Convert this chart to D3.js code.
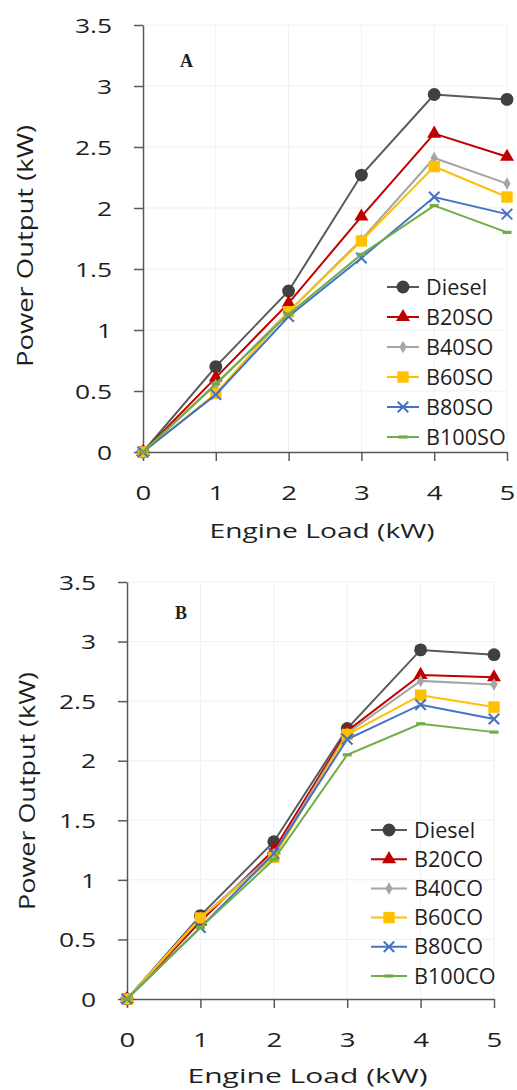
<!DOCTYPE html>
<html lang="en">
<head>
<meta charset="utf-8">
<title>Power output vs engine load</title>
<script src="https://d3js.org/d3.v7.min.js"></script>
<style>
  body { margin: 0; background: #fff; }
  svg { display: block; }
  text { font-family: "Open Sans", sans-serif; fill: #1f1f1f; }
</style>
</head>
<body>
<div id="chart"></div>
<script>
// engine load (x) and axis ticks
var engineLoad = [0, 1, 2, 3, 4, 5];
var yTicks = [0, 0.5, 1, 1.5, 2, 2.5, 3, 3.5];

// series names
var namesA = ["Diesel", "B20SO", "B40SO", "B60SO", "B80SO", "B100SO"];
var namesB = ["Diesel", "B20CO", "B40CO", "B60CO", "B80CO", "B100CO"];

// power output (kW)
var diesel = [0, 0.70, 1.32, 2.27, 2.93, 2.89];

var b20so  = [0, 0.61, 1.22, 1.93, 2.61, 2.42];
var b40so  = [0, 0.55, 1.15, 1.74, 2.41, 2.20];
var b60so  = [0, 0.48, 1.15, 1.73, 2.34, 2.09];
var b80so  = [0, 0.47, 1.11, 1.59, 2.09, 1.95];
var b100so = [0, 0.56, 1.13, 1.62, 2.02, 1.80];

var b20co  = [0, 0.65, 1.25, 2.25, 2.72, 2.70];
var b40co  = [0, 0.68, 1.22, 2.23, 2.67, 2.64];
var b60co  = [0, 0.68, 1.19, 2.22, 2.55, 2.45];
var b80co  = [0, 0.60, 1.22, 2.18, 2.47, 2.35];
var b100co = [0, 0.60, 1.17, 2.05, 2.31, 2.24];

var W = 517, H = 1090;

var svg = d3.select("#chart").append("svg")
  .attr("width", W)
  .attr("height", H);

// styles for the six series, in legend order
var styles = [
  { line: "#595959", fill: "#404040", shape: "circle" },
  { line: "#c00000", fill: "#c00000", shape: "triangle" },
  { line: "#a5a5a5", fill: "#a5a5a5", shape: "diamond" },
  { line: "#ffc000", fill: "#ffc000", shape: "square" },
  { line: "#4472c4", fill: "#4472c4", shape: "x" },
  { line: "#70ad47", fill: "#70ad47", shape: "dash" }
];

var xMark = {
  draw: function(ctx, size) {
    var r = Math.sqrt(size) / 2;
    ctx.moveTo(-r, -r); ctx.lineTo(r, r);
    ctx.moveTo(-r, r); ctx.lineTo(r, -r);
  }
};
var dashMark = {
  draw: function(ctx, size) {
    ctx.rect(-4.5, -1.6, 9, 3.2);
  }
};

function symbolPath(shape) {
  if (shape == "circle") return d3.symbol(d3.symbolCircle, 130)();
  if (shape == "triangle") return d3.symbol(d3.symbolTriangle, 85)();
  if (shape == "diamond") return d3.symbol(d3.symbolDiamond, 45)();
  if (shape == "square") return d3.symbol(d3.symbolSquare, 130)();
  if (shape == "x") return d3.symbol(xMark, 110)();
  return d3.symbol(dashMark, 30)();
}

// widen text to a given factor of its natural length
function stretch(sel, k) {
  sel.each(function() {
    var len = this.getComputedTextLength();
    d3.select(this).attr("textLength", len * k).attr("lengthAdjust", "spacingAndGlyphs");
  });
}

function drawMarker(g, shape, st) {
  var p = g.append("path").attr("d", symbolPath(shape));
  if (shape == "x") {
    p.attr("fill", "none").attr("stroke", st.line).attr("stroke-width", 2);
  } else {
    p.attr("fill", st.fill).attr("stroke", "none");
  }
  return p;
}

function drawPanel(cfg) {
  var x = d3.scaleLinear().domain([0, 5]).range([cfg.x0, cfg.x1]);
  var y = d3.scaleLinear().domain([0, 3.5]).range([cfg.y0, cfg.y1]);

  var g = svg.append("g");

  // faint gridlines
  g.selectAll("line.vgrid")
    .data(engineLoad.slice(1))
    .enter().append("line")
    .attr("class", "vgrid")
    .attr("x1", function(d) { return x(d); })
    .attr("x2", function(d) { return x(d); })
    .attr("y1", y(0)).attr("y2", y(3.5))
    .attr("stroke", "#f0f0f0").attr("stroke-width", 1);
  g.selectAll("line.hgrid")
    .data(yTicks.slice(1))
    .enter().append("line")
    .attr("class", "hgrid")
    .attr("x1", x(0)).attr("x2", x(5))
    .attr("y1", function(d) { return y(d); })
    .attr("y2", function(d) { return y(d); })
    .attr("stroke", "#f0f0f0").attr("stroke-width", 1);

  // axes
  var yAxis = d3.axisLeft(y).tickValues(yTicks).tickSize(9).tickSizeOuter(0)
    .tickFormat(function(d) { return d; });
  var xAxis = d3.axisBottom(x).tickValues(engineLoad).tickSize(9).tickSizeOuter(0)
    .tickFormat(function(d) { return d; });

  var ya = g.append("g").attr("transform", "translate(" + cfg.x0 + ",0)").call(yAxis);
  var xa = g.append("g").attr("transform", "translate(0," + cfg.y0 + ")").call(xAxis);

  [ya, xa].forEach(function(a) {
    a.select(".domain").attr("stroke", "#595959").attr("stroke-width", 1.5);
    a.selectAll(".tick line").attr("stroke", "#595959").attr("stroke-width", 1.5);
    a.selectAll(".tick text").attr("font-size", 20).attr("fill", "#1f1f1f")
      .style("font-family", "'Open Sans', sans-serif");
  });
  ya.selectAll(".tick text").attr("x", -31).attr("dy", "0.36em");
  xa.selectAll(".tick text").attr("y", cfg.xTickDy).attr("dy", null);
  stretch(ya.selectAll(".tick text"), 1.32);
  stretch(xa.selectAll(".tick text"), 1.38);

  // axis titles
  g.append("text")
    .attr("x", (cfg.x0 + cfg.x1) / 2 - 3)
    .attr("y", cfg.y0 + cfg.xTitleDy)
    .attr("text-anchor", "middle")
    .attr("font-size", 20)
    .attr("textLength", cfg.xTitleLen)
    .attr("lengthAdjust", "spacingAndGlyphs")
    .text("Engine Load (kW)");

  g.append("text")
    .attr("transform", "translate(" + cfg.yTitleX + "," + cfg.yTitleY + ") rotate(-90)")
    .attr("text-anchor", "middle")
    .attr("font-size", 21)
    .attr("textLength", cfg.yTitleLen)
    .attr("lengthAdjust", "spacingAndGlyphs")
    .text("Power Output (kW)");

  // panel letter
  g.append("text")
    .attr("x", cfg.labelX).attr("y", cfg.labelY)
    .attr("font-size", 18).attr("font-weight", "bold")
    .style("font-family", "'Liberation Serif', serif")
    .attr("fill", "#000")
    .text(cfg.label);

  // series
  var line = d3.line()
    .x(function(d, i) { return x(engineLoad[i]); })
    .y(function(d) { return y(d); });

  cfg.series.forEach(function(vals, si) {
    var st = styles[si];
    g.append("path")
      .datum(vals)
      .attr("d", line)
      .attr("fill", "none")
      .attr("stroke", st.line)
      .attr("stroke-width", 2);
    vals.forEach(function(v, i) {
      var m = g.append("g").attr("transform", "translate(" + x(engineLoad[i]) + "," + y(v) + ")");
      drawMarker(m, st.shape, st);
    });
  });

  // legend
  var lg = g.append("g");
  cfg.names.forEach(function(name, si) {
    var st = styles[si];
    var ly = cfg.legY + si * cfg.legStep;
    lg.append("line")
      .attr("x1", cfg.legX).attr("x2", cfg.legX + cfg.legLen)
      .attr("y1", ly).attr("y2", ly)
      .attr("stroke", st.line).attr("stroke-width", 2);
    var m = lg.append("g").attr("transform", "translate(" + (cfg.legX + cfg.legLen / 2) + "," + ly + ")");
    drawMarker(m, st.shape, st);
    var t = lg.append("text")
      .attr("x", cfg.legX + cfg.legLen + 7)
      .attr("y", ly + 7.5)
      .attr("font-size", 21)
      .text(name);
    stretch(t, 1.03);
  });
}

drawPanel({
  x0: 143, x1: 507, y0: 452, y1: 25,
  series: [diesel, b20so, b40so, b60so, b80so, b100so],
  names: namesA,
  xTickDy: 48,
  xTitleDy: 86, xTitleLen: 225,
  yTitleX: 33, yTitleY: 246, yTitleLen: 242,
  label: "A", labelX: 180, labelY: 67,
  legX: 387, legLen: 32, legY: 287, legStep: 30
});

drawPanel({
  x0: 127, x1: 494, y0: 999, y1: 582,
  series: [diesel, b20co, b40co, b60co, b80co, b100co],
  names: namesB,
  xTickDy: 48,
  xTitleDy: 84, xTitleLen: 240,
  yTitleX: 35, yTitleY: 791, yTitleLen: 238,
  label: "B", labelX: 175, labelY: 619,
  legX: 371, legLen: 36, legY: 830, legStep: 29.2
});
</script>
</body>
</html>
